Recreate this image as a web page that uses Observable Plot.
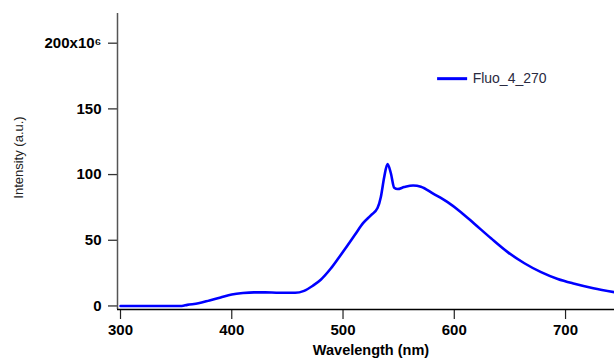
<!DOCTYPE html>
<html>
<head>
<meta charset="utf-8">
<script src="https://cdn.jsdelivr.net/npm/d3@7"></script>
<script src="https://cdn.jsdelivr.net/npm/@observablehq/plot@0.6"></script>
<style>
  html, body { margin: 0; padding: 0; background: #fff; }
  #chart svg { display: block; }
</style>
</head>
<body>
<div id="chart"></div>
<script>
const wavelength = [300, 310, 320, 330, 340, 350, 355, 360, 370, 380, 390, 400, 410, 420, 430, 440, 450, 457, 465, 473, 480, 489, 496, 504, 511, 518, 525, 531, 534, 537, 540, 543, 546, 549, 555, 563, 570, 581, 594, 606, 618, 633, 648, 663, 678, 693, 708, 725, 744];
const intensity = [0, 0, 0, 0, 0, 0, 0, 0.8, 2.0, 4.2, 6.5, 8.7, 9.8, 10.3, 10.3, 10.1, 10.0, 10.0, 11.5, 15.5, 20, 28.5, 36.5, 46, 54.5, 63, 69, 74.5, 83, 98, 108, 101, 90, 89, 90.5, 91.7, 90.8, 85.5, 79, 71.4, 62.6, 51.5, 41, 32.5, 25.7, 20.5, 16.9, 13.5, 10.5];
const seriesName = "Fluo_4_270";
const xTicks = [300, 400, 500, 600, 700];
const yTicks = [0, 50, 100, 150, 200];
const yTopLabel = "200x10\u2076";
const xTitle = "Wavelength (nm)";
const yTitle = "Intensity (a.u.)";
const xDomain = [297.3, 744];
const yDomain = [-2.7, 222.6];
const legendX = [585, 612];
const legendY = 173;

const data = wavelength.map((w, i) => ({w, v: intensity[i]}));
const font = "'Liberation Sans', Arial, sans-serif";

const plot = Plot.plot({
  width: 614,
  height: 361,
  marginLeft: 117,
  marginRight: 0,
  marginTop: 13,
  marginBottom: 52,
  style: {background: "#fff", fontFamily: font, color: "#000"},
  x: {domain: xDomain},
  y: {domain: yDomain},
  marks: [
    Plot.axisX({ticks: xTicks, tickSize: 10, tickPadding: 5, label: null,
      fontSize: 15, fontWeight: "bold", stroke: "#222", strokeWidth: 1.2, fill: "#000"}),
    Plot.axisY({ticks: yTicks, tickSize: 9, tickPadding: 7, label: null,
      fontSize: 15, fontWeight: "bold", stroke: "#333", strokeWidth: 1.3, fill: "#000",
      tickFormat: d => d === 200 ? yTopLabel : String(d)}),
    Plot.ruleX([xDomain[0]], {stroke: "#555", strokeWidth: 1.5}),
    Plot.ruleY([yDomain[0]], {stroke: "#000", strokeWidth: 1.5}),
    Plot.line(data, {x: "w", y: "v", stroke: "#0000ff", strokeWidth: 2.6, curve: "monotone-x"}),
    Plot.ruleY([legendY], {x1: legendX[0], x2: legendX[1], stroke: "#0000ff", strokeWidth: 3}),
    Plot.text([seriesName], {x: legendX[1], y: legendY, text: d => d, dx: 5, textAnchor: "start",
      fontSize: 14, fill: "#2a2a40", fontFamily: font}),
    Plot.text([xTitle], {frameAnchor: "bottom", text: d => d, dy: 45, dx: 5,
      fontSize: 14.5, fontWeight: "bold", fill: "#000", fontFamily: font}),
    Plot.text([yTitle], {frameAnchor: "left", textAnchor: "middle", text: d => d, rotate: -90, dx: -99, dy: -4,
      fontSize: 13, fill: "#222", fontFamily: font, style: "letter-spacing: 0.6px"})
  ]
});
document.getElementById("chart").appendChild(plot);
</script>
</body>
</html>
